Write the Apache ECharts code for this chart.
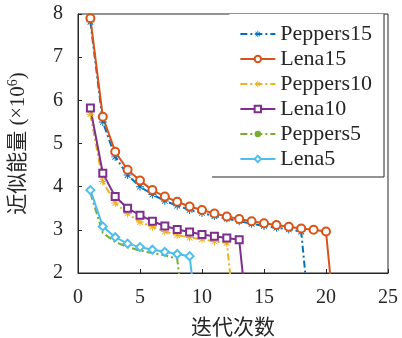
<!DOCTYPE html>
<html>
<head>
<meta charset="utf-8">
<script src="https://cdn.jsdelivr.net/npm/echarts@6/dist/echarts.min.js"></script>
<style>
html,body{margin:0;padding:0;background:#fff;}
#c{width:402px;height:338px;}
</style>
</head>
<body>
<div id="c"></div>
<script>
// Data (y values at iterations 1..n; the final 0 is the terminating drop)
const seriesNames = ['Peppers15', 'Lena15', 'Peppers10', 'Lena10', 'Peppers5', 'Lena5'];
const peppers15 = [7.82, 5.5, 4.69, 4.27, 4.0, 3.82, 3.67, 3.56, 3.46, 3.39, 3.32, 3.26, 3.2, 3.14, 3.09, 3.05, 3.01, 2.96, 0];
const lena15 = [7.9, 5.62, 4.81, 4.39, 4.14, 3.92, 3.77, 3.65, 3.54, 3.46, 3.38, 3.31, 3.25, 3.2, 3.15, 3.11, 3.07, 3.03, 3.0, 2.96, 0];
const peppers10 = [5.68, 4.12, 3.62, 3.38, 3.18, 3.07, 2.96, 2.88, 2.82, 2.78, 2.73, 2.7, 0];
const lena10 = [5.82, 4.31, 3.77, 3.5, 3.34, 3.2, 3.09, 3.01, 2.95, 2.89, 2.85, 2.81, 2.77, 0];
const peppers5 = [3.85, 2.93, 2.72, 2.6, 2.52, 2.46, 2.41, 2.33, 0];
const lena5 = [3.92, 3.08, 2.83, 2.68, 2.6, 2.54, 2.49, 2.44, 2.39, 0];
const xTicks = [0, 5, 10, 15, 20, 25];
const yTicks = [2, 3, 4, 5, 6, 7, 8];

const toPairs = arr => arr.map((v, i) => [i + 1, v]);
const serifFont = '"Liberation Serif", "Noto Sans CJK SC", serif';
const asterisk = 'path://M4.4 0L5.6 0L5.6 10L4.4 10Z M0 4.4L10 4.4L10 5.6L0 5.6Z M1.1 1.9L1.9 1.1L8.9 8.1L8.1 8.9Z M8.1 1.1L8.9 1.9L1.9 8.9L1.1 8.1Z';
const dashDot = [7, 3, 2, 3];

function mk(name, data, color, dashed, symbol, size) {
  return {
    name: name,
    type: 'line',
    data: toPairs(data),
    clip: true,
    symbol: symbol,
    symbolSize: size,
    showSymbol: symbol !== 'none',
    lineStyle: { color: color, width: 2, type: dashed ? dashDot : 'solid' },
    itemStyle: { color: color, borderColor: color, borderWidth: symbol.indexOf('empty') === 0 ? 1.3 : 0 },
    emphasis: { disabled: true },
    animation: false
  };
}

const chart = echarts.init(document.getElementById('c'), null, { renderer: 'canvas' });
chart.setOption({
  backgroundColor: '#fff',
  animation: false,
  grid: { left: 78, right: 14, top: 14, bottom: 65, containLabel: false, outerBoundsMode: 'none',
          show: true, borderColor: '#262626', borderWidth: 1, backgroundColor: 'transparent' },
  xAxis: {
    type: 'value', min: xTicks[0], max: xTicks[xTicks.length - 1], interval: 5,
    name: '迭代次数', nameLocation: 'middle', nameGap: 45,
    nameTextStyle: { fontFamily: serifFont, fontSize: 21, color: '#262626' },
    axisLine: { show: true, lineStyle: { color: '#262626', width: 1 } },
    axisTick: { show: true, inside: true, length: 4, lineStyle: { color: '#262626' } },
    axisLabel: { fontFamily: serifFont, fontSize: 20, color: '#262626', margin: 15 },
    splitLine: { show: false }
  },
  yAxis: {
    type: 'value', min: yTicks[0], max: yTicks[yTicks.length - 1], interval: 1,
    name: '近似能量 ({b|×}10{sup|6})', nameLocation: 'middle', nameGap: 48,
    nameTextStyle: { fontFamily: serifFont, fontSize: 21, color: '#262626',
      rich: { b: { fontFamily: serifFont, fontSize: 20, color: '#262626' },
              sup: { fontFamily: serifFont, fontSize: 14, color: '#262626', padding: [0, 0, 10, 0] } } },
    axisLine: { show: true, lineStyle: { color: '#262626', width: 1 } },
    axisTick: { show: true, inside: true, length: 4, lineStyle: { color: '#262626' } },
    axisLabel: { fontFamily: serifFont, fontSize: 20, color: '#262626', margin: 15 },
    splitLine: { show: false }
  },
  legend: {
    data: seriesNames,
    orient: 'vertical',
    right: 18, top: 14,
    itemWidth: 35, itemHeight: 8, itemGap: 3,
    padding: [9, 12, 9, 10],
    backgroundColor: '#fff',
    borderWidth: 0,
    textStyle: { fontFamily: serifFont, fontSize: 22, color: '#262626' },
    selectedMode: false
  },
  graphic: [
    { type: 'polyline', z: 100, shape: { points: [[384, 14], [384, 177], [212, 177]] }, style: { stroke: '#262626', lineWidth: 1, fill: null } }
  ],
  series: [
    mk(seriesNames[0], peppers15, '#0072BD', true, asterisk, 8),
    mk(seriesNames[1], lena15, '#D95319', false, 'emptyCircle', 8),
    mk(seriesNames[2], peppers10, '#EDB120', true, asterisk, 8),
    mk(seriesNames[3], lena10, '#7E2F8E', false, 'emptyRect', 7),
    mk(seriesNames[4], peppers5, '#77AC30', true, 'none', 0),
    mk(seriesNames[5], lena5, '#4DBEEE', false, 'emptyDiamond', 8)
  ]
});
</script>
</body>
</html>
